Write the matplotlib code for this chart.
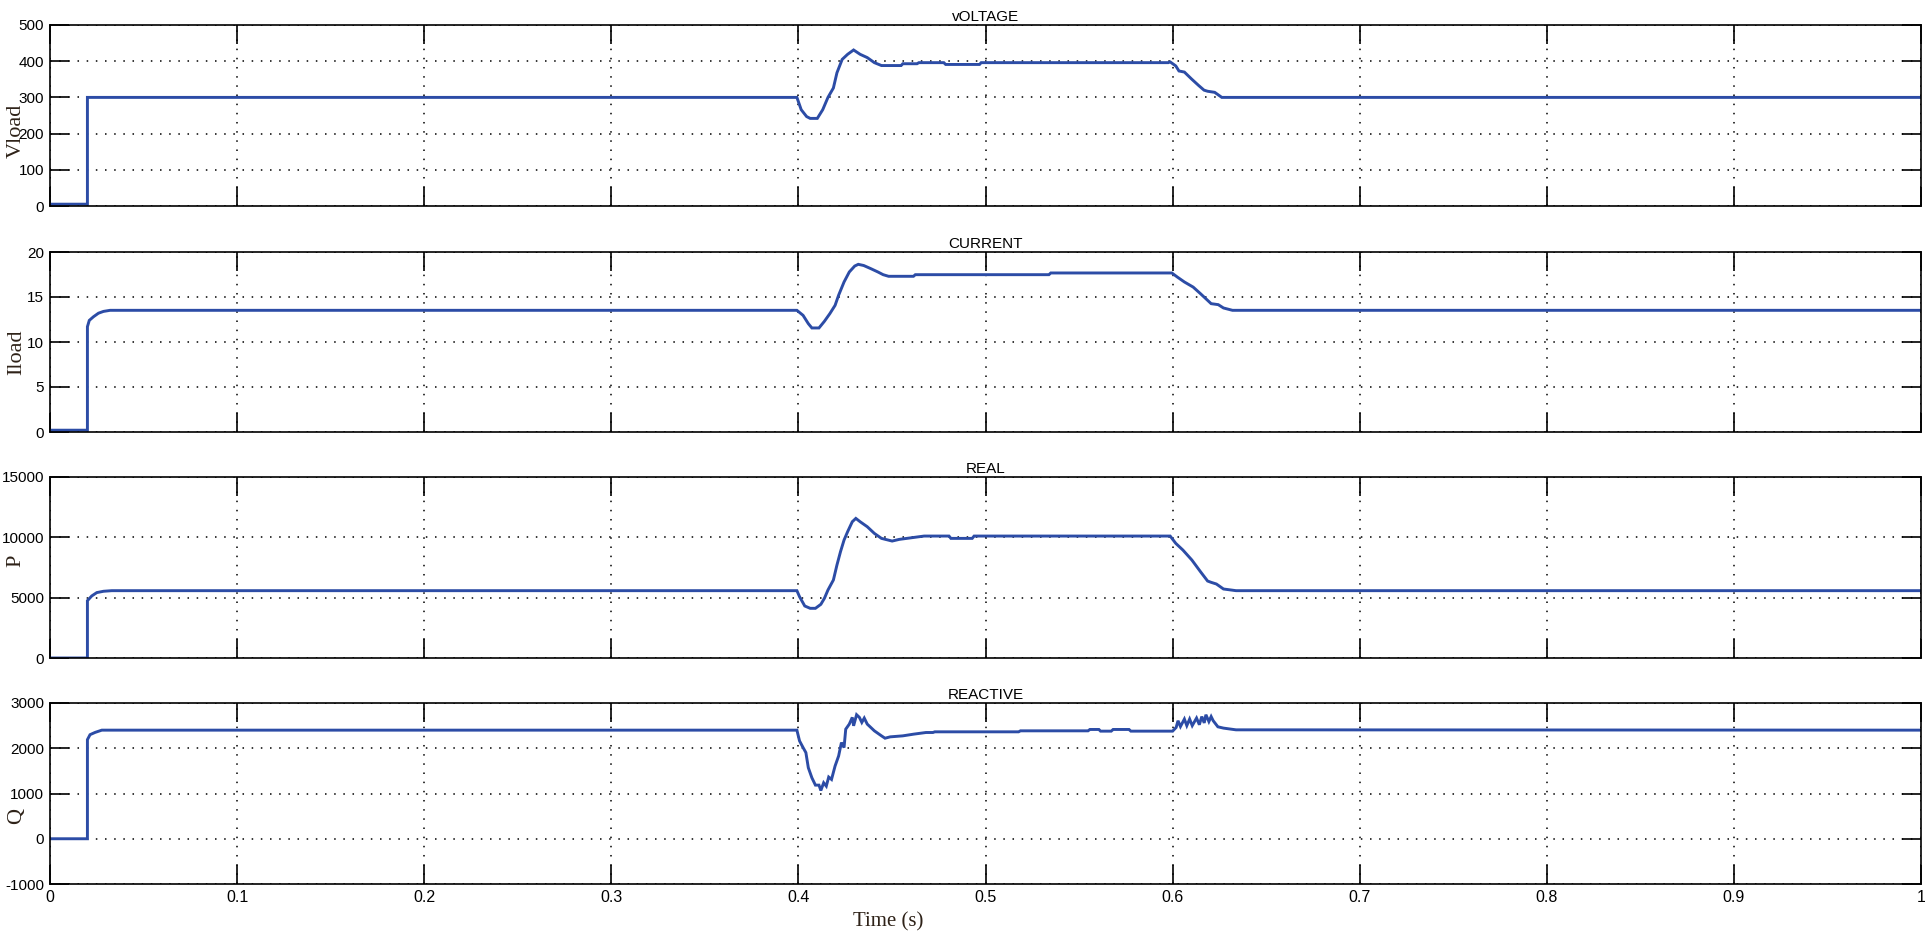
"""
plot.py - Load voltage / current / power response (MATLAB-style scope view).

Four stacked panels sharing a 0..1 s time axis. Saves out.png.
"""

import matplotlib
matplotlib.use("Agg")
import matplotlib.pyplot as plt

# ---------------------------------------------------------------------------
# Data (breakpoints)
# ---------------------------------------------------------------------------

V_T = [0.0, 0.02, 0.02, 0.3992, 0.4015, 0.4044, 0.4063, 0.4101, 0.413, 0.4158,
       0.4187, 0.4206, 0.4234, 0.4263, 0.4295, 0.433, 0.4368, 0.4406, 0.4444,
       0.4549, 0.4558, 0.4634, 0.4644, 0.4777, 0.4787, 0.4968, 0.4977, 0.5977,
       0.5987, 0.6017, 0.6034, 0.6063, 0.6101, 0.6139, 0.6168, 0.6187, 0.6225,
       0.6263, 1.0]
V_LOAD = [5, 5, 300, 300, 266, 247, 242, 242, 266, 300,
          326, 368, 405, 419, 431, 419, 410, 396, 388,
          388, 393, 393, 396, 396, 391, 391, 396, 396,
          398, 387, 373, 370, 351, 333, 320, 317, 314,
          300, 300]

I_T = [0.0, 0.02, 0.02, 0.021, 0.0232, 0.0259, 0.0286, 0.0321, 0.3992, 0.4025,
       0.4053, 0.4072, 0.411, 0.4139, 0.4168, 0.4196, 0.4215, 0.4244, 0.4272,
       0.4301, 0.432, 0.4349, 0.4387, 0.4425, 0.4453, 0.4482, 0.4615, 0.4625,
       0.5339, 0.5349, 0.5996, 0.6025, 0.6063, 0.611, 0.6149, 0.6187, 0.6206,
       0.6244, 0.6272, 0.632, 1.0]
I_LOAD = [0.2, 0.2, 11.7, 12.4, 12.8, 13.2, 13.4, 13.52, 13.52, 12.96,
          12.04, 11.56, 11.56, 12.3, 13.15, 14.07, 15.2, 16.67, 17.78,
          18.44, 18.63, 18.5, 18.15, 17.78, 17.48, 17.3, 17.3, 17.48,
          17.48, 17.67, 17.67, 17.22, 16.67, 16.1, 15.37, 14.63, 14.26,
          14.15, 13.78, 13.52, 13.52]

P_T = [0.0, 0.02, 0.02, 0.0223, 0.025, 0.0286, 0.033, 0.3992, 0.4006, 0.4034,
       0.4063, 0.4091, 0.412, 0.4139, 0.4158, 0.4187, 0.4206, 0.4225, 0.4244,
       0.4263, 0.4288, 0.4307, 0.433, 0.4368, 0.4406, 0.4444, 0.4501, 0.4539,
       0.4672, 0.4805, 0.4815, 0.4929, 0.4939, 0.5987, 0.6017, 0.6055, 0.6103,
       0.6149, 0.6187, 0.6206, 0.6234, 0.6272, 0.6339, 1.0]
P_REAL = [0, 0, 4750, 5140, 5420, 5530, 5580, 5580, 5083, 4310,
          4117, 4117, 4448, 4945, 5635, 6463, 7705, 8809, 9775,
          10465, 11293, 11569, 11293, 10879, 10327, 9913, 9692, 9830,
          10106, 10106, 9913, 9913, 10106, 10106, 9499, 8947, 8119,
          7153, 6380, 6270, 6132, 5718, 5580, 5580]

Q_T = [0.0, 0.02, 0.02, 0.0214, 0.0241, 0.0277, 0.3992, 0.4006, 0.4025, 0.404,
       0.4053, 0.4072, 0.4091, 0.411, 0.412, 0.4135, 0.4149, 0.4162, 0.4177,
       0.4196, 0.4215, 0.423, 0.4244, 0.4253, 0.4272, 0.4288, 0.4295, 0.4311,
       0.4326, 0.4339, 0.4352, 0.4368, 0.4406, 0.4444, 0.4463, 0.4491, 0.4558,
       0.4615, 0.4682, 0.4719, 0.4729, 0.5177, 0.5187, 0.5548, 0.5558, 0.5606,
       0.5615, 0.5672, 0.5682, 0.5767, 0.5777, 0.6, 0.6019, 0.6029, 0.6042,
       0.6063, 0.6076, 0.6091, 0.6105, 0.6128, 0.6143, 0.6156, 0.6169, 0.6178,
       0.6194, 0.6206, 0.6217, 0.6242, 0.6272, 0.6339, 1.0]
Q_REACT = [0, 0, 2190, 2300, 2350, 2400, 2400, 2163, 2015, 1904,
           1570, 1348, 1185, 1185, 1066, 1237, 1163, 1363, 1311,
           1607, 1830, 2126, 2015, 2422, 2533, 2682, 2496, 2741,
           2682, 2571, 2667, 2533, 2385, 2274, 2222, 2252, 2274,
           2311, 2348, 2348, 2363, 2363, 2385, 2385, 2415, 2415,
           2378, 2378, 2415, 2415, 2378, 2378, 2460, 2608, 2480,
           2645, 2500, 2645, 2500, 2667, 2520, 2700, 2560, 2741,
           2590, 2700, 2608, 2474, 2445, 2407, 2400]

TITLES = ["vOLTAGE", "CURRENT", "REAL", "REACTIVE"]
YLABELS = ["Vload", "Iload", "P", "Q"]
YTICKS = [
    [0, 100, 200, 300, 400, 500],
    [0, 5, 10, 15, 20],
    [0, 5000, 10000, 15000],
    [-1000, 0, 1000, 2000, 3000],
]
XTICKS = [0, 0.1, 0.2, 0.3, 0.4, 0.5, 0.6, 0.7, 0.8, 0.9, 1.0]
XTICKLABELS = ["0", "0.1", "0.2", "0.3", "0.4", "0.5", "0.6", "0.7", "0.8", "0.9", "1"]
XLABEL = "Time (s)"

# ---------------------------------------------------------------------------
# Layout / style
# ---------------------------------------------------------------------------

W, H = 1925, 936
LINE_COLOR = "#2c4ca6"
LABEL_COLOR = "#2e2218"
SANS = ["Liberation Sans", "DejaVu Sans"]
SERIF = ["Liberation Serif", "DejaVu Serif"]

# axes boxes in pixels: (top, bottom)
PANEL_PX = [(25, 206), (252, 432), (477, 658), (703, 884)]
LEFT_PX, RIGHT_PX = 50, 1921
# y-label vertical position (axes fraction)
YLABEL_POS = [0.414, 0.442, 0.536, 0.377]


def _style_axis(ax, yticks, show_xlabels):
    """Give an axis the boxed, inward-tick MATLAB look."""
    ax.set_xlim(0, 1)
    ax.set_ylim(yticks[0], yticks[-1])
    ax.set_xticks(XTICKS)
    ax.set_yticks(yticks)
    ax.set_yticklabels([str(v) for v in yticks], family=SANS, fontsize=11)
    if show_xlabels:
        ax.set_xticklabels(XTICKLABELS, family=SANS, fontsize=11.5)
    else:
        ax.set_xticklabels([])
    ax.tick_params(direction="in", length=14, width=1.2, color="black",
                   top=True, right=True, pad=4.3, labelcolor="black")
    for s in ax.spines.values():
        s.set_linewidth(1.2)
        s.set_color("black")
    ax.grid(True, color="black", linestyle=(0, (1, 5)), linewidth=1.1)
    ax.set_axisbelow(True)


fig = plt.figure(figsize=(W / 100, H / 100), dpi=100)
fig.patch.set_facecolor("white")

series = [(V_T, V_LOAD), (I_T, I_LOAD), (P_T, P_REAL), (Q_T, Q_REACT)]

for i, ((t, y), (top, bot)) in enumerate(zip(series, PANEL_PX)):
    rect = [LEFT_PX / W, 1 - bot / H, (RIGHT_PX - LEFT_PX) / W, (bot - top) / H]
    ax = fig.add_axes(rect)
    ax.plot(t, y, color=LINE_COLOR, linewidth=2.1, solid_joinstyle="miter")
    _style_axis(ax, YTICKS[i], show_xlabels=(i == 3))
    ax.set_title(TITLES[i], family=SANS, fontsize=11, pad=3)
    ax.set_ylabel(YLABELS[i], family=SERIF, fontsize=16, color=LABEL_COLOR,
                  va="center", ha="center")
    ax.yaxis.set_label_coords(-0.018, YLABEL_POS[i])
    if i == 3:
        ax.set_xlabel(XLABEL, family=SERIF, fontsize=15, color=LABEL_COLOR,
                      va="center", ha="center")
        ax.xaxis.set_label_coords(0.448, -0.21)

fig.savefig("out.png", dpi=100)
